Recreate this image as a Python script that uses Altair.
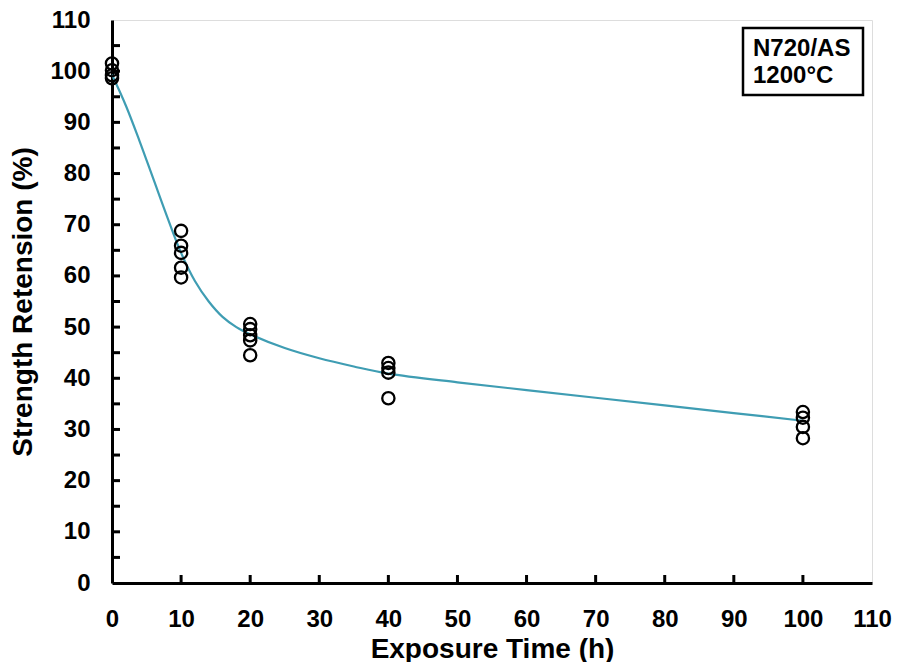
import altair as alt
import pandas as pd

# measured points
pt_x = [0, 0, 0, 0,
        10, 10, 10, 10, 10,
        20, 20, 20, 20, 20,
        40, 40, 40, 40,
        100, 100, 100, 100]
pt_y = [101.5, 100.2, 99.2, 98.6,
        68.8, 65.9, 64.5, 61.6, 59.7,
        50.6, 49.6, 48.4, 47.4, 44.5,
        43.0, 42.0, 41.1, 36.1,
        33.4, 32.3, 30.5, 28.3]

# fitted curve
fit_x = [0, 2, 4, 6, 8, 10, 12, 14, 16, 18, 20, 25, 30, 35, 40, 50, 60, 70, 80, 90, 100]
fit_y = [99.3, 93.3, 86.3, 78.9, 71.5, 64.5, 59.0, 55.0, 52.0, 50.0, 48.6, 45.9, 43.9,
         42.3, 40.9, 39.2, 37.7, 36.2, 34.7, 33.2, 31.7]

x_ticks = [0, 10, 20, 30, 40, 50, 60, 70, 80, 90, 100, 110]
y_ticks = [0, 10, 20, 30, 40, 50, 60, 70, 80, 90, 100, 110]
x_inner_ticks = [10, 20, 30, 40, 50, 60, 70, 80, 90, 100]
y_inner_ticks = [5, 10, 15, 20, 25, 30, 35, 40, 45, 50, 55, 60, 65, 70, 75, 80, 85,
                 90, 95, 100, 105]
label_lines = ["N720/AS", "1200°C"]

W, H = 760, 563
FONT = "Liberation Sans"

xscale = alt.Scale(domain=[0, 110], nice=False, zero=False)
yscale = alt.Scale(domain=[0, 110], nice=False, zero=False)

pts = pd.DataFrame({"t": pt_x, "r": pt_y})
fit = pd.DataFrame({"t": fit_x, "r": fit_y})

xaxis = alt.Axis(values=x_ticks, title="Exposure Time (h)", ticks=False, grid=False,
                 labelFontSize=24, labelFont=FONT, labelFontWeight="bold",
                 labelPadding=24, labelFlush=False, labelOverlap=False,
                 titleFontSize=28, titleFont=FONT,
                 titleFontWeight="bold", titlePadding=4, domainWidth=3,
                 domainColor="black", labelColor="black", titleColor="black")
yaxis = alt.Axis(values=y_ticks, title="Strength Retension (%)", ticks=False, grid=False,
                 labelFontSize=24, labelFont=FONT, labelFontWeight="bold",
                 labelPadding=22, labelFlush=False, labelOverlap=False,
                 titleFontSize=28, titleFont=FONT,
                 titleFontWeight="bold", titlePadding=12, domainWidth=3,
                 domainColor="black", labelColor="black", titleColor="black")

line = alt.Chart(fit).mark_line(color="#3F9DB3", strokeWidth=2.2, interpolate="catmull-rom").encode(
    x=alt.X("t:Q", scale=xscale, axis=xaxis),
    y=alt.Y("r:Q", scale=yscale, axis=yaxis),
)

points = alt.Chart(pts).mark_point(shape="circle", filled=False, color="black",
                                   strokeWidth=2.3, size=150, opacity=1).encode(
    x=alt.X("t:Q", scale=xscale),
    y=alt.Y("r:Q", scale=yscale),
)

yt = alt.Chart(pd.DataFrame({"v": y_inner_ticks})).mark_rule(color="black", strokeWidth=3).encode(
    y=alt.Y("v:Q", scale=yscale),
    x=alt.value(0), x2=alt.value(8),
)
xt = alt.Chart(pd.DataFrame({"v": x_inner_ticks})).mark_rule(color="black", strokeWidth=3).encode(
    x=alt.X("v:Q", scale=xscale),
    y=alt.value(H), y2=alt.value(H - 8),
)

box = alt.Chart(pd.DataFrame({"a": [0]})).mark_rect(fill="white", stroke="black", strokeWidth=2.5).encode(
    x=alt.value(631), x2=alt.value(751), y=alt.value(8), y2=alt.value(75),
)
txt1 = alt.Chart(pd.DataFrame({"s": [label_lines[0]]})).mark_text(
    font=FONT, fontSize=24, fontWeight="bold", align="left", baseline="middle", color="black"
).encode(text="s:N", x=alt.value(641), y=alt.value(29))
txt2 = alt.Chart(pd.DataFrame({"s": [label_lines[1]]})).mark_text(
    font=FONT, fontSize=24, fontWeight="bold", align="left", baseline="middle", color="black"
).encode(text="s:N", x=alt.value(641), y=alt.value(56))

chart = alt.layer(line, points, yt, xt, box, txt1, txt2).properties(
    width=W, height=H,
    autosize=alt.AutoSizeParams(type="none"),
    padding={"left": 104, "top": 12, "right": 22, "bottom": 79},
).configure_view(stroke="black", strokeWidth=3).configure(background="white")

chart.save("out.html", embed_options={"renderer": "svg", "actions": False})
